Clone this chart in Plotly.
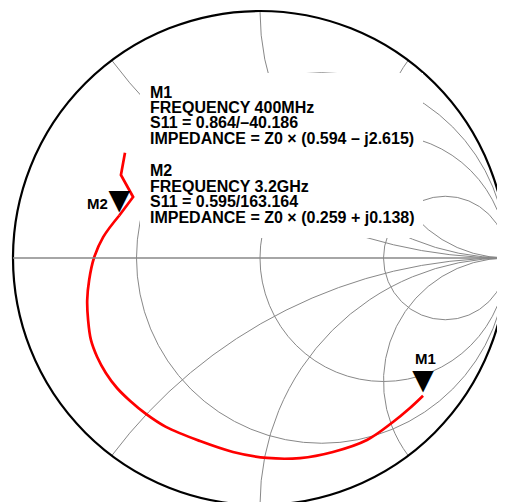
import plotly.graph_objects as go

# S11 trace read off the chart as normalised impedance z = r + jx,
# from the 400MHz end (M1) round to the top end past M2
Z_RE = [0.594, 0.502, 0.412, 0.312, 0.266, 0.234, 0.215, 0.201, 0.187, 0.163,
        0.153, 0.146, 0.140, 0.138, 0.139, 0.143, 0.154, 0.165, 0.179, 0.196,
        0.220, 0.259, 0.287, 0.223, 0.202]
Z_IM = [-2.615, -2.322, -2.031, -1.705, -1.411, -1.193, -1.012, -0.850, -0.708, -0.576,
        -0.498, -0.435, -0.380, -0.326, -0.275, -0.225, -0.171, -0.117, -0.062, 0.0,
        0.063, 0.138, 0.210, 0.263, 0.331]
M2_AT = 21  # index of the M2 point in the trace; past it the trace zig-zags

# markers
MARK_NAMES = ["M1", "M2"]
MARK_RE = [0.594, 0.259]
MARK_IM = [-2.615, 0.138]

# grid circles / arcs
R_GRID = [1 / 3, 1, 3]
X_GRID = [0.5, 1, 2]

INFO = [
    ["M1", "FREQUENCY 400MHz", "S11 = 0.864/\u201340.186",
     "IMPEDANCE = Z0 \u00d7 (0.594 \u2013 j2.615)"],
    ["M2", "FREQUENCY 3.2GHz", "S11 = 0.595/163.164",
     "IMPEDANCE = Z0 \u00d7 (0.259 + j0.138)"],
]

W, H = 505, 502
M = dict(l=5, t=3, r=6, b=5)
PW, PH = W - M["l"] - M["r"], H - M["t"] - M["b"]
PAGE = 8  # body margin the browser puts round the figure

GRID = "#888888"
RED = "#FF0000"
FONT = "Liberation Sans, Arial, sans-serif"


def fx(x):
    return (x - PAGE - M["l"]) / PW


def fy(y):
    return 1 - (y - PAGE - M["t"]) / PH


fig = go.Figure()
# smooth sweep M1 -> M2, then the kinked tail
fig.add_trace(go.Scattersmith(real=Z_RE[:M2_AT + 1], imag=Z_IM[:M2_AT + 1], mode="lines",
                              line=dict(color=RED, width=2.7, shape="spline", smoothing=1),
                              hoverinfo="skip"))
fig.add_trace(go.Scattersmith(real=Z_RE[M2_AT:], imag=Z_IM[M2_AT:], mode="lines",
                              line=dict(color=RED, width=2.7), hoverinfo="skip"))
fig.add_trace(go.Scattersmith(real=MARK_RE, imag=MARK_IM, mode="text",
                              text=["\u25bc"] * len(MARK_NAMES), textposition="top center",
                              textfont=dict(family="DejaVu Sans", size=28, color="black"),
                              hoverinfo="skip"))

axis_common = dict(showticklabels=False, ticks="", gridcolor=GRID, gridwidth=1.4)
fig.update_layout(
    width=W, height=H,
    margin=dict(M, pad=0),
    paper_bgcolor="white",
    showlegend=False,
    hovermode=False,
    smith=dict(
        domain=dict(x=[0, 1], y=[0, 1]),
        bgcolor="white",
        realaxis=dict(tickvals=R_GRID + [1000], showline=True, linecolor=GRID,
                      linewidth=1.4, **axis_common),
        imaginaryaxis=dict(tickvals=[-v for v in X_GRID[::-1]] + X_GRID + [-1000, 1000],
                           showline=True, linecolor="black", linewidth=2.2, **axis_common),
    ),
)

# white panel behind the marker readout
fig.add_shape(type="rect", xref="paper", yref="paper",
              x0=fx(140), x1=fx(423), y0=fy(238), y1=fy(73),
              fillcolor="white", line=dict(width=0), layer="above")

# readout text, one annotation per line so the spacing stays tight
STEP = 15.4
for block, top in zip(INFO, [92, 171]):
    for i, line in enumerate(block):
        fig.add_annotation(text=line, xref="paper", yref="paper",
                           x=fx(148), y=fy(top + i * STEP),
                           xanchor="left", yanchor="middle", showarrow=False,
                           font=dict(family=FONT, size=16, color="black", weight="bold"))

# marker labels
for name, (lx, ly) in zip(MARK_NAMES, [(425, 358), (97, 204)]):
    fig.add_annotation(text=name, xref="paper", yref="paper", x=fx(lx), y=fy(ly),
                       xanchor="center", yanchor="middle", showarrow=False,
                       font=dict(family=FONT, size=15, color="black", weight="bold"))

fig.write_html("out.html")
